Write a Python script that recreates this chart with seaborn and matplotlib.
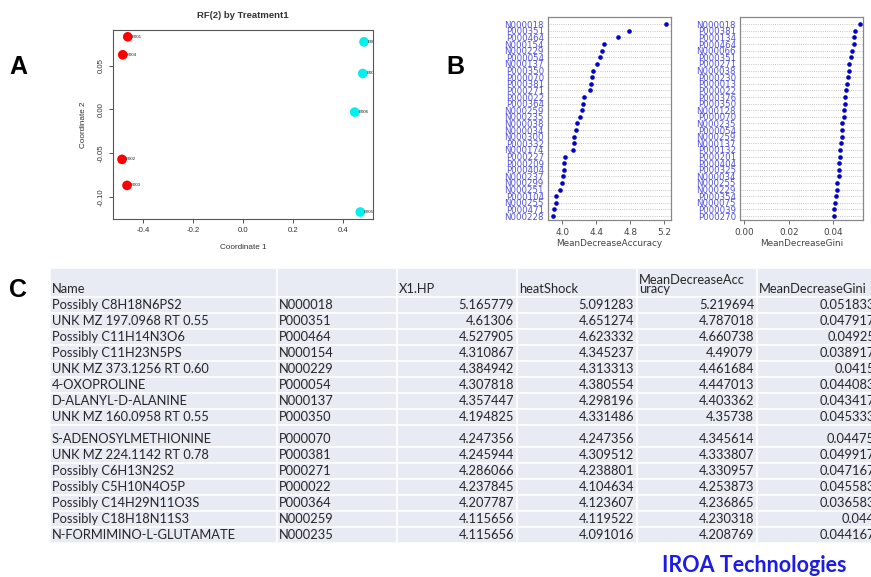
import numpy as np
import pandas as pd
import matplotlib
matplotlib.use("Agg")
import matplotlib.pyplot as plt
import matplotlib.transforms as mtrans
from matplotlib.patches import Rectangle
import seaborn as sns

# ---------------- Panel A data (MDS of RF proximity) ----------------
samples = ["B001", "B004", "B002", "B003", "B007", "B008", "B006", "B005"]
coord1 = [-0.461, -0.481, -0.484, -0.464, 0.484, 0.479, 0.447, 0.469]
coord2 = [0.0832, 0.0626, -0.0572, -0.0870, 0.0775, 0.0412, -0.0030, -0.1175]
treatment = ["X1.HP"] * 4 + ["heatShock"] * 4
a_xticks = [-0.4, -0.2, 0.0, 0.2, 0.4]
a_xticklabels = ["-0.4", "-0.2", "0.0", "0.2", "0.4"]
a_yticks = [-0.10, -0.05, 0.00, 0.05]
a_yticklabels = ["-0.10", "-0.05", "0.00", "0.05"]

# ---------------- Table C data ----------------
tab_names = ["Possibly C8H18N6PS2", "UNK MZ 197.0968 RT 0.55", "Possibly C11H14N3O6",
             "Possibly C11H23N5PS", "UNK MZ 373.1256 RT 0.60", "4-OXOPROLINE",
             "D-ALANYL-D-ALANINE", "UNK MZ 160.0958 RT 0.55", "S-ADENOSYLMETHIONINE",
             "UNK MZ 224.1142 RT 0.78", "Possibly C6H13N2S2", "Possibly C5H10N4O5P",
             "Possibly C14H29N11O3S", "Possibly C18H18N11S3", "N-FORMIMINO-L-GLUTAMATE"]
tab_ids = ["N000018", "P000351", "P000464", "N000154", "N000229", "P000054", "N000137",
           "P000350", "P000070", "P000381", "P000271", "P000022", "P000364", "N000259", "N000235"]
tab_x1hp = [5.165779, 4.61306, 4.527905, 4.310867, 4.384942, 4.307818, 4.357447, 4.194825,
            4.247356, 4.245944, 4.286066, 4.237845, 4.207787, 4.115656, 4.115656]
tab_heat = [5.091283, 4.651274, 4.623332, 4.345237, 4.313313, 4.380554, 4.298196, 4.331486,
            4.247356, 4.309512, 4.238801, 4.104634, 4.123607, 4.119522, 4.091016]
tab_mda = [5.219694, 4.787018, 4.660738, 4.49079, 4.461684, 4.447013, 4.403362, 4.35738,
           4.345614, 4.333807, 4.330957, 4.253873, 4.236865, 4.230318, 4.208769]
tab_mdg = [0.051833, 0.047917, 0.04925, 0.038917, 0.0415, 0.044083, 0.043417, 0.045333,
           0.04475, 0.049917, 0.047167, 0.045583, 0.036583, 0.044, 0.044167]
tab_headers = ["Name", "", "X1.HP", "heatShock", "MeanDecreaseAcc\nuracy", "MeanDecreaseGini"]

# ---------------- Panel B data ----------------
acc_ids = tab_ids + ["N000038", "N000034", "N000300", "P000332", "N000174", "P000227",
                     "P000209", "P000404", "N000237", "N000299", "N000251", "P000104",
                     "N000255", "P000471", "N000228"]
acc_vals = tab_mda + [4.176, 4.165, 4.140, 4.131, 4.128, 4.028, 4.017, 4.015, 4.008,
                      3.996, 3.976, 3.922, 3.920, 3.902, 3.890]
acc_xticks = [4.0, 4.4, 4.8, 5.2]
acc_xticklabels = ["4.0", "4.4", "4.8", "5.2"]

gini_ids = ["N000018", "P000381", "P000134", "P000464", "N000066", "P000351", "P000271",
            "N000038", "P000230", "P000013", "P000022", "P000376", "P000350", "N000128",
            "P000070", "N000235", "P000054", "N000259", "N000137", "P000132", "P000201",
            "P000404", "P000325", "N000034", "N000255", "N000229", "P000354", "N000075",
            "P000039", "P000270"]
gini_vals = [0.051833, 0.049917, 0.0494, 0.04925, 0.0485, 0.047917, 0.047167, 0.0470,
             0.0468, 0.0462, 0.045583, 0.0455, 0.045333, 0.0450, 0.04475, 0.044167,
             0.044083, 0.044, 0.043417, 0.0430, 0.0429, 0.0428, 0.0427, 0.0426, 0.0416,
             0.0415, 0.0411, 0.0408, 0.0404, 0.0403]
gini_xticks = [0.00, 0.02, 0.04]
gini_xticklabels = ["0.00", "0.02", "0.04"]

# ---------------- style ----------------
sns.set_style("white")
plt.rcParams["font.family"] = ["Liberation Sans", "DejaVu Sans"]

W, H = 871, 577
fig = plt.figure(figsize=(W / 100, H / 100), dpi=100)
fig.patch.set_facecolor("white")


def box(l, t, r, b):
    return [l / W, 1 - b / H, (r - l) / W, (b - t) / H]


# ---------------- overlay axes in pixel units (table, letters) ----------------
axT = fig.add_axes([0, 0, 1, 1])
axT.set_xlim(0, W)
axT.set_ylim(H, 0)
axT.axis("off")

for letter, (lx, ly) in zip(["A", "B", "C"], [(18, 67), (455, 67), (18, 290)]):
    axT.text(lx, ly, letter, fontsize=18, fontweight="bold", ha="center", va="center",
             color="black")

# table layout
col_edges = [50, 277, 397, 517, 637, 757, 878]
row_edges = [268, 297, 313, 329, 345, 361, 377, 393, 409, 425, 447, 463, 479, 495, 511, 527, 543]
cell_fill = "#e8ebf3"
txt_col = "#262626"
tfont = ["Lato", "DejaVu Sans"]
tsize = 9.3

for r in range(len(row_edges) - 1):
    for c in range(len(col_edges) - 1):
        axT.add_patch(Rectangle((col_edges[c], row_edges[r]),
                                col_edges[c + 1] - col_edges[c],
                                row_edges[r + 1] - row_edges[r],
                                facecolor=cell_fill, edgecolor="white", linewidth=1.1))

# header
for c, htxt in enumerate(tab_headers):
    lines = htxt.split("\n")
    for k, line in enumerate(lines):
        y = row_edges[1] - 8 - (len(lines) - 1 - k) * 9.5
        axT.text(col_edges[c] + 2, y, line, ha="left", va="center", fontsize=tsize,
                 color=txt_col, family=tfont)

cols_num = [tab_x1hp, tab_heat, tab_mda, tab_mdg]
for i in range(len(tab_names)):
    y = row_edges[i + 2] - 8
    axT.text(col_edges[0] + 2, y, tab_names[i], ha="left", va="center", fontsize=tsize,
             color=txt_col, family=tfont)
    axT.text(col_edges[1] + 2, y, tab_ids[i], ha="left", va="center", fontsize=tsize,
             color=txt_col, family=tfont)
    for j, col in enumerate(cols_num):
        axT.text(col_edges[j + 3] - 3, y, str(col[i]), ha="right", va="center",
                 fontsize=tsize, color=txt_col, family=tfont)

axT.text(754, 566, "IROA Technologies", ha="center", va="center", fontsize=15.5,
         fontweight="bold", color="#1c1ce6", family=tfont)

# ---------------- Panel A ----------------
axA = fig.add_axes(box(113, 30, 373, 219))
dfA = pd.DataFrame({"coord1": coord1, "coord2": coord2, "treatment": treatment,
                    "sample": samples})
sns.scatterplot(data=dfA, x="coord1", y="coord2", hue="treatment",
                palette={"X1.HP": "#ff0000", "heatShock": "#00f0f0"},
                s=48, linewidth=0, legend=False, ax=axA, zorder=3)
off = mtrans.offset_copy(axA.transData, fig=fig, x=2.6, y=0, units="points")
for s_, x_, y_ in zip(samples, coord1, coord2):
    axA.text(x_, y_, s_, transform=off, fontsize=3.2, ha="left", va="center",
             color="#222222", clip_on=True, zorder=4)
axA.set_xlim(-0.52, 0.52)
axA.set_ylim(-0.1255, 0.091)
axA.set_xticks(a_xticks)
axA.set_xticklabels(a_xticklabels)
axA.set_yticks(a_yticks)
axA.set_yticklabels(a_yticklabels, rotation=90, va="center")
axA.tick_params(axis="both", bottom=True, left=True, direction="out", length=3,
                width=0.6, color="#333333", labelsize=5.6, labelcolor="#333333", pad=3)
axA.set_xlabel("Coordinate 1", fontsize=5.9, color="#333333", labelpad=7)
axA.set_ylabel("Coordinate 2", fontsize=5.9, color="#333333", labelpad=8)
axA.set_title("RF(2) by Treatment1", fontsize=6.8, fontweight="bold", color="#333333", pad=9)
for sp in axA.spines.values():
    sp.set_color("#555555")
    sp.set_linewidth(0.8)

# ---------------- Panel B ----------------
lab_col = "#5050dd"
pt_col = "#0000cc"


def dotpanel(ax, ids, vals, xlim, xticks, xticklabels, xlabel):
    sns.stripplot(x=vals, y=ids, orient="h", jitter=False, color=pt_col, size=3.3,
                  linewidth=0, ax=ax, zorder=3)
    ax.set_ylim(len(ids) - 1 + 0.6, -1.1)
    ax.set_xlim(*xlim)
    ax.set_xticks(xticks)
    ax.set_xticklabels(xticklabels)
    ax.grid(False)
    ax.yaxis.grid(True, linestyle=(0, (1, 1.6)), color="#b4b4b4", linewidth=0.6)
    ax.set_axisbelow(True)
    ax.tick_params(axis="y", left=False, length=0, pad=3, labelsize=6.2,
                   labelcolor=lab_col, labelfontfamily="DejaVu Sans")
    ax.tick_params(axis="x", bottom=True, direction="out", length=3, width=0.6,
                   color="#555555", labelsize=6.4, labelcolor="#444444", pad=2.5,
                   labelfontfamily="DejaVu Sans")
    ax.set_xlabel(xlabel, fontsize=6.4, color="#444444", labelpad=2,
                  family=["DejaVu Sans"])
    ax.set_ylabel("")
    for sp in ax.spines.values():
        sp.set_color("#888888")
        sp.set_linewidth(0.9)


axB1 = fig.add_axes(box(548, 17, 671, 220))
dotpanel(axB1, acc_ids, acc_vals, (3.83, 5.28), acc_xticks, acc_xticklabels,
         "MeanDecreaseAccuracy")
axB2 = fig.add_axes(box(740, 17, 863, 220))
dotpanel(axB2, gini_ids, gini_vals, (-0.0019, 0.0534), gini_xticks, gini_xticklabels,
         "MeanDecreaseGini")

fig.savefig("out.png", dpi=100)
